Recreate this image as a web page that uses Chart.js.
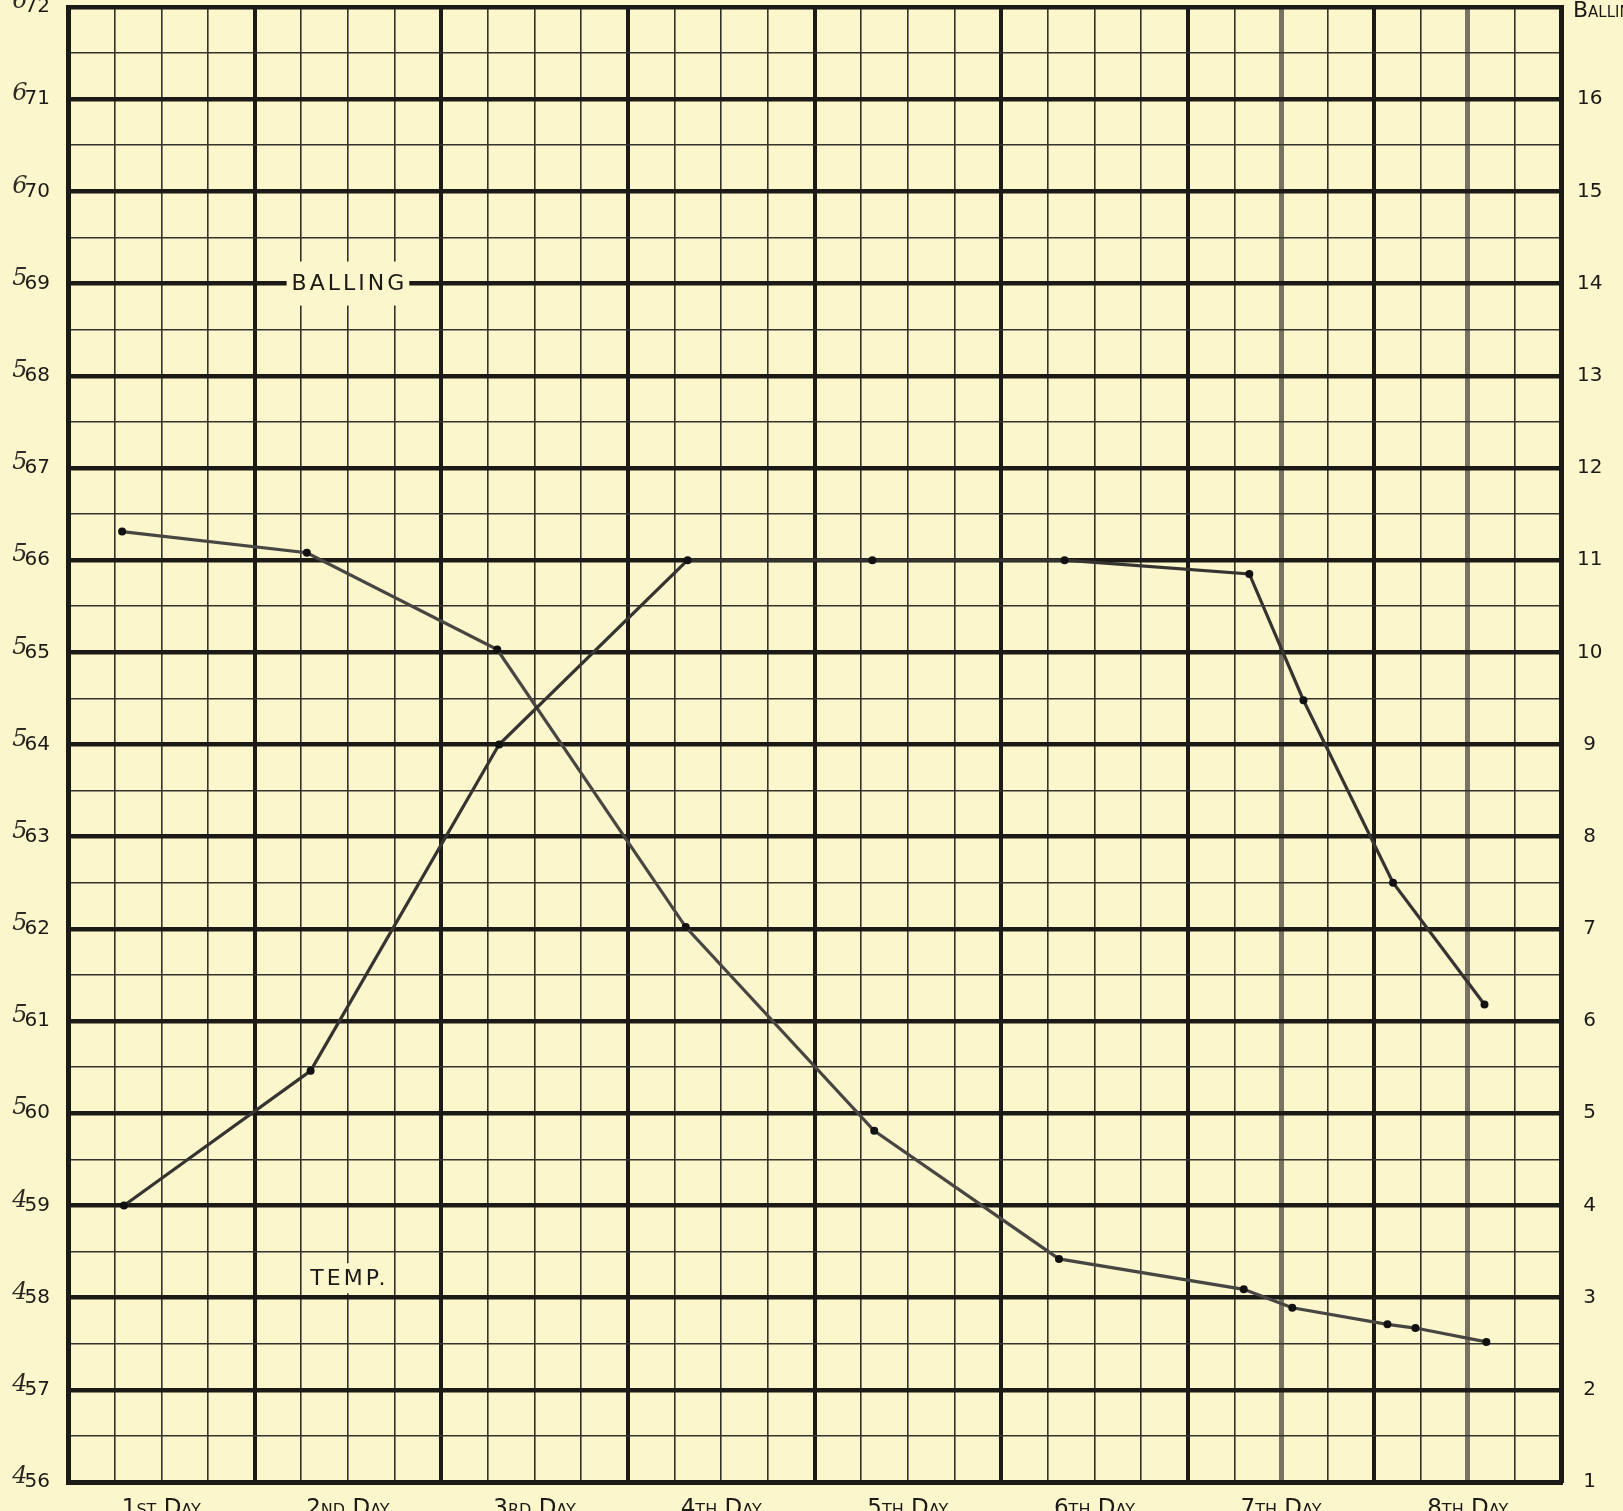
<!DOCTYPE html>
<html>
<head>
<meta charset="utf-8">
<title>Temp. / Balling</title>
<script src="https://cdn.jsdelivr.net/npm/chart.js@4.4.1/dist/chart.umd.min.js"></script>
<style>
    html, body { margin: 0; padding: 0; background: #fbf6cb; overflow: hidden; }
    #wrap { width: 1623px; height: 1511px; position: relative; }
</style>
</head>
<body>
<div id="wrap"><canvas id="grafico"></canvas></div>
<script>
// x is counted in days from the start of the 1st day (0 .. 8)
const dayLabels = ['1st Day', '2nd Day', '3rd Day', '4th Day', '5th Day', '6th Day', '7th Day', '8th Day'];

const tempDays   = [0.30, 1.30, 2.31, 3.32, 4.31, 5.34, 6.33, 6.62, 7.10, 7.59];
const tempValues = [59.0, 60.46, 64.0, 66.0, 66.0, 66.0, 65.85, 64.48, 62.5, 61.18];

const ballingDays   = [0.29, 1.28, 2.30, 3.31, 4.32, 5.31, 6.30, 6.56, 7.07, 7.22, 7.60];
const ballingValues = [11.31, 11.08, 10.03, 7.02, 4.81, 3.42, 3.09, 2.89, 2.71, 2.67, 2.52];

// left scale (printed) and right scale
const tempMin = 56, tempMax = 72;
const ballingMin = 1, ballingMax = 17;

// pencil corrections written over the first digit of each left label, 56 .. 72
const handDigits = ['4', '4', '4', '4', '5', '5', '5', '5', '5', '5', '5', '5', '5', '5', '6', '6', '6'];

// darker pencil strokes down the middle of the 7th and 8th day
const pencilDays = [6.5, 7.5];

const PAPER = '#fbf6cb';
const INK = '#1b1a17';

function isWhole(v) { return Math.abs(v - Math.round(v)) < 1e-6; }

function gridColorX(v) {
    if (pencilDays.some(d => Math.abs(d - v) < 1e-6)) return 'rgba(95,90,80,0.85)';
    return isWhole(v) ? INK : '#34322c';
}
function gridWidthX(v) {
    if (pencilDays.some(d => Math.abs(d - v) < 1e-6)) return 5;
    return isWhole(v) ? 4 : 1.6;
}

const paperPlugin = {
    id: 'paper',
    beforeDraw(chart) {
        const ctx = chart.ctx;
        ctx.save();
        ctx.fillStyle = PAPER;
        ctx.fillRect(0, 0, chart.width, chart.height);
        ctx.restore();
    }
};

function boxedText(ctx, text, x, y, padX, h) {
    ctx.font = '22px "DejaVu Sans"';
    ctx.letterSpacing = '3px';
    const w = ctx.measureText(text).width - 3;
    ctx.fillStyle = PAPER;
    ctx.fillRect(x - w / 2 - padX, y - h / 2, w + padX * 2, h);
    ctx.fillStyle = INK;
    ctx.textAlign = 'left';
    ctx.textBaseline = 'middle';
    ctx.fillText(text, x - w / 2, y + 1);
    ctx.letterSpacing = '0px';
}

const notesPlugin = {
    id: 'notes',
    beforeDatasetsDraw(chart) {
        const { ctx, scales } = chart;
        ctx.save();
        boxedText(ctx, 'BALLING', scales.x.getPixelForValue(1.5), scales.y.getPixelForValue(69), 5, 44);
        boxedText(ctx, 'TEMP.', scales.x.getPixelForValue(1.5), scales.y.getPixelForValue(58.21), 6, 30);
        ctx.restore();
    },
    afterDraw(chart) {
        const { ctx, scales, chartArea } = chart;
        ctx.save();
        // handwritten corrections on the left
        ctx.fillStyle = '#2e2a25';
        ctx.font = 'italic 24px "DejaVu Serif"';
        ctx.textAlign = 'center';
        ctx.textBaseline = 'middle';
        handDigits.forEach((d, i) => {
            const py = scales.y.getPixelForValue(tempMin + i);
            ctx.fillText(d, 20, py - 5);
        });
        // right hand title, cut off by the page edge
        ctx.fillStyle = INK;
        ctx.font = 'small-caps 22px "DejaVu Sans"';
        ctx.textAlign = 'left';
        ctx.fillText('Balling', chartArea.right + 12, scales.y2.getPixelForValue(ballingMax) + 4);
        ctx.restore();
    }
};

const ctx = document.getElementById('grafico').getContext('2d');

new Chart(ctx, {
    type: 'line',
    data: {
        datasets: [{
            label: 'Temp.',
            data: tempDays.map((d, i) => ({ x: d, y: tempValues[i] })),
            yAxisID: 'y',
            borderColor: '#353431',
            borderWidth: 3.2,
            pointRadius: 4,
            pointBackgroundColor: '#111',
            pointBorderWidth: 0,
            tension: 0
        }, {
            label: 'Balling',
            data: ballingDays.map((d, i) => ({ x: d, y: ballingValues[i] })),
            yAxisID: 'y2',
            borderColor: '#474642',
            borderWidth: 3.2,
            pointRadius: 4,
            pointBackgroundColor: '#111',
            pointBorderWidth: 0,
            tension: 0
        }]
    },
    options: {
        responsive: true,
        maintainAspectRatio: false,
        animation: false,
        layout: { autoPadding: false, padding: { top: 7, left: 0, right: 0, bottom: 0 } },
        plugins: { legend: { display: false }, tooltip: { enabled: false } },
        scales: {
            x: {
                type: 'linear',
                min: 0,
                max: dayLabels.length,
                afterFit: s => { s.height = 29; s.paddingLeft = 0; s.paddingRight = 0; },
                border: { display: true, width: 5, color: INK },
                grid: {
                    drawTicks: false,
                    color: c => gridColorX(c.tick ? c.tick.value : 0),
                    lineWidth: c => gridWidthX(c.tick ? c.tick.value : 0)
                },
                ticks: {
                    stepSize: 0.25,
                    autoSkip: false,
                    maxRotation: 0,
                    padding: 13,
                    color: INK,
                    font: { family: '"DejaVu Sans"', size: 23, weight: 'small-caps' },
                    callback: v => {
                        const k = Math.floor(v);
                        return Math.abs(v - k - 0.5) < 1e-6 ? dayLabels[k] : '';
                    }
                }
            },
            y: {
                position: 'left',
                min: tempMin,
                max: tempMax,
                afterFit: s => { s.width = 68; s.paddingTop = 0; s.paddingBottom = 0; },
                border: { display: true, width: 5, color: INK },
                grid: {
                    drawTicks: false,
                    color: c => (c.tick && isWhole(c.tick.value)) ? INK : '#34322c',
                    lineWidth: c => (c.tick && isWhole(c.tick.value)) ? 4.5 : 1.6
                },
                ticks: {
                    stepSize: 0.5,
                    autoSkip: false,
                    padding: 18,
                    color: INK,
                    font: { family: '"DejaVu Sans"', size: 20 },
                    callback: v => isWhole(v) ? String(v) : ''
                }
            },
            y2: {
                position: 'right',
                min: ballingMin,
                max: ballingMax,
                afterFit: s => { s.width = 62; s.paddingTop = 0; s.paddingBottom = 0; },
                border: { display: true, width: 5, color: INK },
                grid: { display: false, drawTicks: false },
                ticks: {
                    stepSize: 1,
                    autoSkip: false,
                    padding: 16,
                    crossAlign: 'center',
                    color: INK,
                    font: { family: '"DejaVu Sans"', size: 20 },
                    callback: v => v === ballingMax ? '' : String(v)
                }
            }
        }
    },
    plugins: [paperPlugin, notesPlugin]
});
</script>
</body>
</html>
